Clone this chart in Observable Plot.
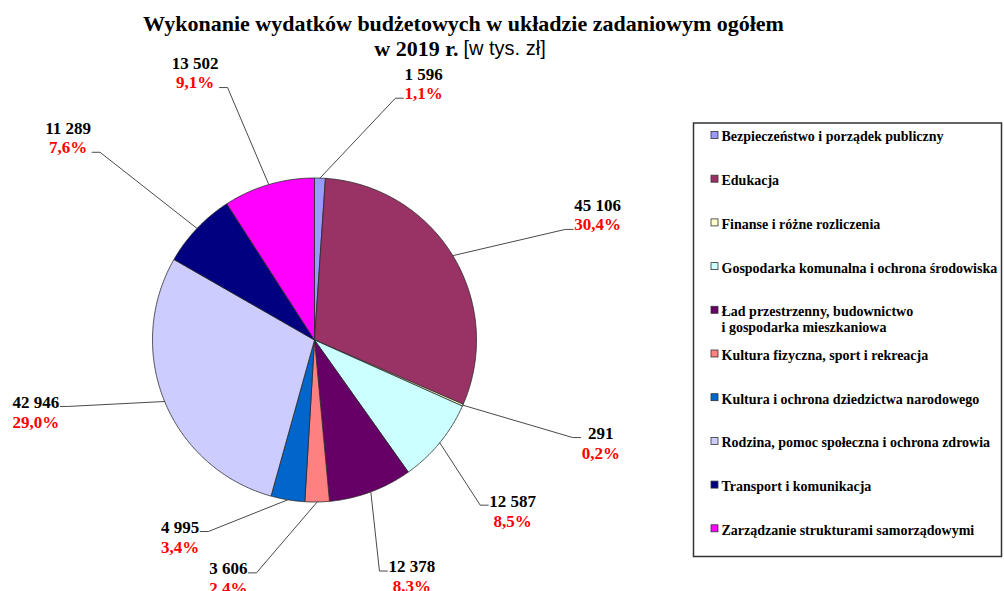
<!DOCTYPE html>
<html><head><meta charset="utf-8">
<script src="https://cdn.jsdelivr.net/npm/d3@7"></script>
<script src="https://cdn.jsdelivr.net/npm/@observablehq/plot@0.6"></script>
<style>html,body{margin:0;padding:0;background:#fff}#chart svg{display:block}</style>
</head><body><div id="chart"></div>
<script>
// ---- data ----
const categories = [
  "Bezpieczeństwo i porządek publiczny",
  "Edukacja",
  "Finanse i różne rozliczenia",
  "Gospodarka komunalna i ochrona środowiska",
  "Ład przestrzenny, budownictwo\ni gospodarka mieszkaniowa",
  "Kultura fizyczna, sport i rekreacja",
  "Kultura i ochrona dziedzictwa narodowego",
  "Rodzina, pomoc społeczna i ochrona zdrowia",
  "Transport i komunikacja",
  "Zarządzanie strukturami samorządowymi"
];
const values = [1596, 45106, 291, 12587, 12378, 3606, 4995, 42946, 11289, 13502];
const colors = ["#9999FF", "#993366", "#FFFFCC", "#CCFFFF", "#660066", "#FF8080", "#0066CC", "#CCCCFF", "#000080", "#FF00FF"];
const titleLine1 = "Wykonanie wydatków budżetowych w układzie zadaniowym ogółem";
const titleLine2a = "w 2019 r.";
const titleLine2b = "[w tys. zł]";
// label layout (polar: angle in degrees clockwise from 12 o'clock, distance from centre)
const labelAngles = [18.5, 66.2, 110.7, 134.9, 164.3, 194.0, 209.0, 254.9, 311.2, 341.0];
const labelDists = [255, 274, 276, 234, 240, 240, 219, 255, 285, 267];

// ---- layout ----
const W = 1004, H = 591;
const cx = 314, cy = 339.5, R = 162;
const serif = "'Liberation Serif','Times New Roman',serif";
const sans = "'Liberation Sans',Arial,sans-serif";

const loc = d3.formatLocale({decimal: ",", thousands: " ", grouping: [3], currency: ["", " zł"]});
const fmtValue = loc.format(",d");
const fmtPct = loc.format(".1f");
const total = d3.sum(values);

const ctx = document.createElement("canvas").getContext("2d");
function textWidth(s, font) { ctx.font = font; return ctx.measureText(s).width; }

const arcs = d3.pie().sort(null).value(d => d)(values);
const polar = (a, r) => [cx + r * Math.sin(a), cy - r * Math.cos(a)];

const marks = [];
// slices
arcs.forEach((a, i) => {
  const pts = [[cx, cy]];
  const n = Math.max(2, Math.ceil((a.endAngle - a.startAngle) / 0.01));
  for (let k = 0; k <= n; k++) pts.push(polar(a.startAngle + (a.endAngle - a.startAngle) * k / n, R));
  pts.push([cx, cy]);
  marks.push(Plot.line(pts, {x: d => d[0], y: d => d[1], fill: colors[i], stroke: "#2a2a2a", strokeWidth: 0.8, strokeLinejoin: "round", curve: "linear"}));
});

// labels
const labelFont = `bold 17px ${serif}`;
const labels = arcs.map((a, i) => {
  const mid = (a.startAngle + a.endAngle) / 2;
  const edge = polar(mid, R);
  const elbow = polar(labelAngles[i] * Math.PI / 180, labelDists[i]);
  const right = elbow[0] > cx;
  const hook = [elbow[0] + (right ? 8 : -8), elbow[1]];
  const vText = fmtValue(values[i]);
  const pText = fmtPct(values[i] / total * 100) + "%";
  const half = Math.max(textWidth(vText, labelFont), textWidth(pText, labelFont)) / 2;
  const tx = hook[0] + (right ? half + 1 : -half - 1);
  const upper = elbow[1] < cy;
  return {i, line: [edge, elbow, hook], vText, pText, tx,
    vy: upper ? elbow[1] - 24 : elbow[1] - 4,
    py: upper ? elbow[1] - 4.5 : elbow[1] + 16};
});
labels.forEach(l => marks.push(Plot.line(l.line, {x: d => d[0], y: d => d[1], stroke: "#4a4a4a", strokeWidth: 1})));
marks.push(Plot.text(labels, {x: "tx", y: "vy", text: "vText", fill: "#000", fontFamily: serif, fontSize: 17, fontWeight: "bold", textAnchor: "middle", lineAnchor: "middle"}));
marks.push(Plot.text(labels, {x: "tx", y: "py", text: "pText", fill: "#FF0000", fontFamily: serif, fontSize: 17, fontWeight: "bold", textAnchor: "middle", lineAnchor: "middle"}));

// title
marks.push(Plot.text([titleLine1], {frameAnchor: "top", dx: -39, dy: 14.5, text: d => d, fontFamily: serif, fontSize: 22, fontWeight: "bold", fill: "#000", lineAnchor: "top"}));
marks.push(Plot.text([titleLine2a], {frameAnchor: "top", dx: -44, dy: 39.5, text: d => d, fontFamily: serif, fontSize: 22, fontWeight: "bold", fill: "#000", lineAnchor: "top", textAnchor: "end"}));
marks.push(Plot.text([titleLine2b], {frameAnchor: "top", dx: -39, dy: 40, text: d => d, fontFamily: sans, fontSize: 20, fill: "#000", lineAnchor: "top", textAnchor: "start"}));

// legend
const lgX1 = 693.5, lgX2 = 1001.5, lgY1 = 123, lgY2 = 556.5, lgTop = 135, lgStep = 43.7;
const legend = categories.map((c, i) => ({c, color: colors[i], y: lgTop + i * lgStep}));
marks.push(Plot.rect([0], {x1: () => lgX1, x2: () => lgX2, y1: () => lgY1, y2: () => lgY2, fill: "#fff", stroke: "#333", strokeWidth: 1.5}));
marks.push(Plot.rect(legend, {x1: () => 711, x2: () => 718, y1: d => d.y - 3.5, y2: d => d.y + 3.5, fill: "color", stroke: "#333", strokeWidth: 0.8}));
marks.push(Plot.text(legend, {x: () => 721, y: d => d.y - 5.5, text: "c", fill: "#000", fontFamily: serif, fontSize: 14, fontWeight: "bold", textAnchor: "start", lineAnchor: "top", lineHeight: 1.15}));

const chart = Plot.plot({
  width: W, height: H, margin: 0,
  x: {domain: [0, W], range: [0, W], axis: null},
  y: {domain: [0, H], range: [0, H], axis: null},
  color: {type: "identity"},
  style: {background: "#fff", overflow: "visible"},
  marks
});
document.getElementById("chart").appendChild(chart);
</script>
</body></html>
